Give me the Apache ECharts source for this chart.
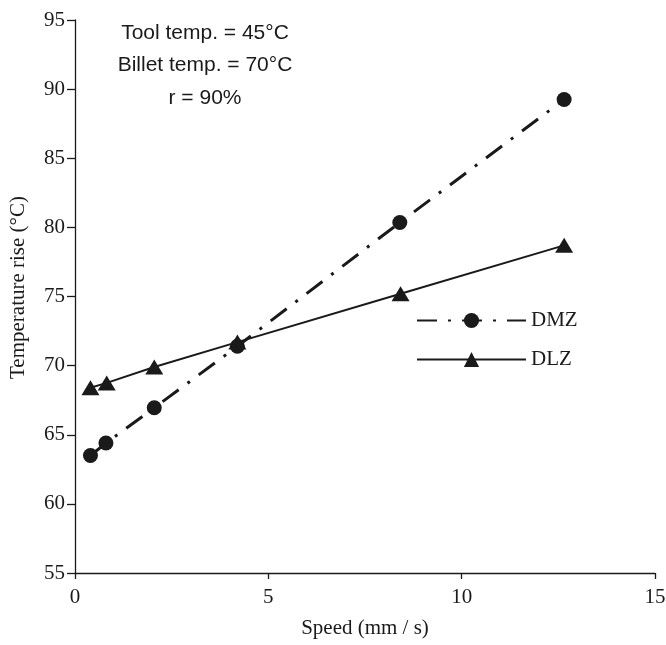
<!DOCTYPE html>
<html>
<head>
<meta charset="utf-8">
<script src="https://cdn.jsdelivr.net/npm/echarts@6/dist/echarts.min.js"></script>
<style>html,body{margin:0;padding:0;background:#fff}#c{width:666px;height:645px}</style>
</head>
<body>
<div id="c"></div>
<script>
const dmzData = [[0.4,63.5],[0.8,64.4],[2.05,66.95],[4.2,71.4],[8.4,80.35],[12.65,89.25]];
const dlzData = [[0.4,68.4],[0.82,68.75],[2.05,69.9],[4.2,71.7],[8.42,75.2],[12.65,78.7]];
const seriesNames = ['DMZ','DLZ'];
const annotations = ['Tool temp. = 45\u00B0C','Billet temp. = 70\u00B0C','r = 90%'];
const xTitle = 'Speed (mm / s)';
const yTitle = 'Temperature rise (\u00B0C)';

const serif = 'Liberation Serif';
const ink = '#1a1a1a';
const chart = echarts.init(document.getElementById('c'), null, {renderer:'canvas'});
chart.setOption({
  animation:false,
  backgroundColor:'#fff',
  grid:{left:75, right:11, top:20, bottom:72, containLabel:false, outerBoundsMode:'none'},
  xAxis:{type:'value', min:0, max:15, interval:5,
    name:xTitle, nameLocation:'middle', nameGap:45,
    nameTextStyle:{fontFamily:serif, fontSize:21, color:ink},
    axisLine:{lineStyle:{color:ink, width:1.3}},
    axisTick:{inside:false, length:6, lineStyle:{color:ink, width:1.3}},
    axisLabel:{fontFamily:serif, fontSize:21, color:ink, margin:14},
    splitLine:{show:false}},
  yAxis:{type:'value', min:55, max:95, interval:5,
    name:yTitle, nameLocation:'middle', nameGap:46, nameRotate:90,
    nameTextStyle:{fontFamily:serif, fontSize:21, color:ink, padding:[0,0,0,18]},
    axisLine:{lineStyle:{color:ink, width:1.3}},
    axisTick:{inside:false, length:8, lineStyle:{color:ink, width:1.3}},
    axisLabel:{fontFamily:serif, fontSize:21, color:ink, margin:10},
    splitLine:{show:false}},
  legend:{orient:'vertical', left:416, top:310, padding:0, itemWidth:109, itemHeight:19, itemGap:18,
    textStyle:{fontFamily:serif, fontSize:21, color:ink},
    data:seriesNames},
  graphic:annotations.map((t,i)=>({type:'text', x:205, y:33+i*32.5,
    style:{text:t, fontFamily:'Liberation Sans', fontSize:21, fill:ink, align:'center', verticalAlign:'middle'}})),
  series:[
    {name:seriesNames[0], type:'line', data:dmzData, symbol:'circle', symbolSize:15,
      itemStyle:{color:ink}, lineStyle:{color:ink, width:3, type:[20,11,3,11]}},
    {name:seriesNames[1], type:'line', data:dlzData, symbol:'triangle', symbolSize:[18,15],
      itemStyle:{color:ink}, lineStyle:{color:ink, width:2, type:'solid'}}
  ]
});
</script>
</body>
</html>
